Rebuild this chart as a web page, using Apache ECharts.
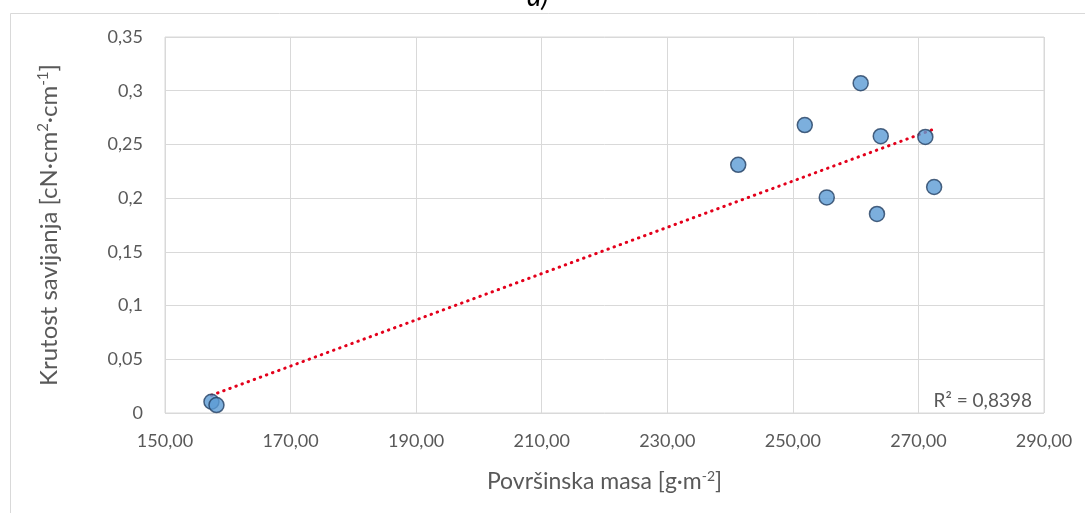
<!DOCTYPE html>
<html>
<head>
<meta charset="utf-8">
<script src="https://cdn.jsdelivr.net/npm/echarts@6/dist/echarts.min.js"></script>
<style>
  html, body { margin: 0; padding: 0; background: #fff; }
  #chart { width: 1085px; height: 513px; }
</style>
</head>
<body>
<div id="chart"></div>
<script>
// Data
const massX = [157.4, 158.2, 241.3, 251.9, 255.4, 260.8, 263.4, 264.0, 271.1, 272.5];
const stiffY = [0.0105, 0.0074, 0.231, 0.268, 0.2007, 0.307, 0.1853, 0.2577, 0.257, 0.2104];
const r2Label = 'R² = 0,8398';
const xTicks = [150, 170, 190, 210, 230, 250, 270, 290];
const yTicks = [0, 0.05, 0.1, 0.15, 0.2, 0.25, 0.3, 0.35];

// Linear least-squares trendline from the data
const n = massX.length;
const mx = massX.reduce((a, b) => a + b, 0) / n;
const my = stiffY.reduce((a, b) => a + b, 0) / n;
let sxy = 0, sxx = 0;
for (let i = 0; i < n; i++) { sxy += (massX[i] - mx) * (stiffY[i] - my); sxx += (massX[i] - mx) ** 2; }
const slope = sxy / sxx, icpt = my - slope * mx;
const xmin = Math.min(...massX), xmax = Math.max(...massX);
const trend = [[xmin, icpt + slope * xmin], [xmax, icpt + slope * xmax]];

const pts = massX.map((x, i) => [x, stiffY[i]]);
const FONT = 'Lato, "Open Sans", sans-serif';
const comma = (v, d) => v.toFixed(d).replace('.', ',');
const richX = {
  n: { fontSize: 23, color: '#595959', fontFamily: FONT },
  s: { fontSize: 14, color: '#595959', fontFamily: FONT, verticalAlign: 'top', padding: [0, 0, 12, 0] }
};
const richY = {
  n: { fontSize: 24, color: '#595959', fontFamily: FONT },
  s: { fontSize: 15, color: '#595959', fontFamily: FONT, verticalAlign: 'top', padding: [0, 0, 12, 0] }
};

const chart = echarts.init(document.getElementById('chart'));
chart.setOption({
  animation: false,
  backgroundColor: '#fff',
  grid: { left: 165, right: 41, top: 37, bottom: 100, show: true, borderColor: '#d9d9d9', borderWidth: 1 },
  graphic: [
    { type: 'rect', left: 8, top: 11, shape: { width: 1200, height: 700 }, style: { fill: 'none', stroke: '#d9d9d9', lineWidth: 1 }, silent: true, z: -1 },
    { type: 'text', left: 527, top: -17, style: { text: 'a)', font: 'italic 28px ' + FONT, fill: '#000' } },
    { type: 'text', right: 53, top: 391, style: { text: r2Label, font: '19px ' + FONT, fill: '#595959' } }
  ],
  xAxis: {
    type: 'value', min: xTicks[0], max: xTicks[xTicks.length - 1], interval: 20,
    name: '{n|Površinska masa [g·m}{s|-2}{n|]}', nameLocation: 'middle', nameGap: 56,
    nameTextStyle: { rich: richX },
    axisLine: { show: false }, axisTick: { show: false },
    splitLine: { show: true, lineStyle: { color: '#d9d9d9', width: 1 } },
    axisLabel: { color: '#595959', fontSize: 18, fontFamily: FONT, margin: 19, formatter: v => comma(v, 2) }
  },
  yAxis: {
    type: 'value', min: 0, max: 0.35, interval: 0.05,
    name: '{n|Krutost savijanja [cN·cm}{s|2}{n|·cm}{s|-1}{n|]}', nameLocation: 'middle', nameGap: 102, nameRotate: 90,
    nameTextStyle: { rich: richY },
    axisLine: { show: false }, axisTick: { show: false },
    splitLine: { show: true, lineStyle: { color: '#d9d9d9', width: 1 } },
    axisLabel: { color: '#595959', fontSize: 18, fontFamily: FONT, margin: 22, formatter: v => v === 0 ? '0' : comma(v, 2).replace(/0$/, '') }
  },
  series: [
    {
      type: 'line', data: trend, symbol: 'none', z: 3,
      lineStyle: { color: '#e3001b', width: 3, type: [0.5, 6], cap: 'round' }
    },
    {
      type: 'scatter', data: pts, symbol: 'circle', symbolSize: 15, z: 4,
      itemStyle: { color: '#5b9bd5', borderColor: '#233f62', borderWidth: 1.5 }
    }
  ]
});
</script>
</body>
</html>
